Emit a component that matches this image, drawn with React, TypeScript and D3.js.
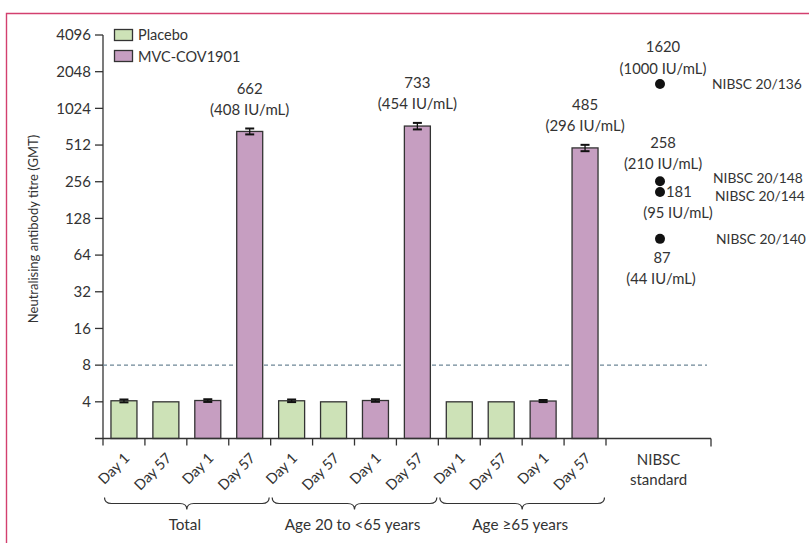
import React from "react";
import * as d3 from "d3";

const categories = ["Day 1", "Day 57", "Day 1", "Day 57", "Day 1", "Day 57", "Day 1", "Day 57", "Day 1", "Day 57", "Day 1", "Day 57"];
const groups = ["Total", "Age 20 to <65 years", "Age \u226565 years"];
const arms = ["Placebo", "Placebo", "MVC-COV1901", "MVC-COV1901", "Placebo", "Placebo", "MVC-COV1901", "MVC-COV1901", "Placebo", "Placebo", "MVC-COV1901", "MVC-COV1901"];
const gmtValues = [4.08, 4.0, 4.1, 662, 4.08, 4.0, 4.1, 733, 4.0, 4.0, 4.06, 485];
const ciLow = [3.96, null, 3.99, 626, 3.98, null, 4.0, 688, null, null, 3.98, 456];
const ciHigh = [4.18, null, 4.2, 700, 4.18, null, 4.2, 778, null, null, 4.14, 514];
const iuLabels = [null, null, null, "(408 IU/mL)", null, null, null, "(454 IU/mL)", null, null, null, "(296 IU/mL)"];
const yTicks = [4, 8, 16, 32, 64, 128, 256, 512, 1024, 2048, 4096];

const nibscNames = ["NIBSC 20/136", "NIBSC 20/148", "NIBSC 20/144", "NIBSC 20/140"];
const nibscValues = [1620, 258, 181, 87];
const nibscDotAt = [1620, 258, 211, 87];
const nibscIU = ["(1000 IU/mL)", "(210 IU/mL)", "(95 IU/mL)", "(44 IU/mL)"];

const colors: Record<string, string> = { Placebo: "#cde2b7", "MVC-COV1901": "#c69ec1" };
const ink = "#333333";
const font = "Lato, 'Noto Sans', sans-serif";

export default function App() {
  const W = 809, H = 543;
  const y = d3.scaleLog().base(2).domain([2, 4096]).range([438.5, 35]);
  const x = d3.scaleBand<number>().domain(d3.range(categories.length)).range([103, 606]).paddingInner(0.38).paddingOuter(0.19);
  const step = x.step();
  const x0 = 103;
  const xEnd = 711;
  const nibscX = 660;
  const base = y(2);
  const cx = (i: number) => x(i)! + x.bandwidth() / 2;

  const brace = (a: number, b: number) => {
    const m = (a + b) / 2;
    const t = 497.5, f = 503.5, tip = 509.5;
    return `M${a},${t} Q${a},${f} ${a + 7},${f} L${m - 7},${f} Q${m},${f} ${m},${tip} Q${m},${f} ${m + 7},${f} L${b - 7},${f} Q${b},${f} ${b},${t}`;
  };

  return (
    <svg width={W} height={H} style={{ position: "absolute", left: 0, top: 0, fontFamily: font }}>
      <rect width={W} height={H} fill="#fff" />
      <path d={`M6.5,${H} L6.5,13.5 L${W},13.5`} fill="none" stroke="#d3406f" strokeWidth={1.4} />

      {/* y axis */}
      <line x1={x0} x2={x0} y1={y(4096)} y2={base} stroke={ink} strokeWidth={1.3} />
      {yTicks.map((t) => (
        <g key={t}>
          <line x1={x0 - 8} x2={x0} y1={y(t)} y2={y(t)} stroke={ink} strokeWidth={1.3} />
          <text x={x0 - 12} y={y(t)} dy="0.35em" textAnchor="end" fontSize={15} fill={ink}>{t}</text>
        </g>
      ))}
      <text transform={`translate(33,229) rotate(-90)`} textAnchor="middle" dy="0.35em" fontSize={13} fill={ink}>
        Neutralising antibody titre (GMT)
      </text>

      {/* threshold */}
      <line x1={x0} x2={707} y1={y(8)} y2={y(8)} stroke="#6e8797" strokeWidth={1.1} strokeDasharray="4,3" />

      {/* bars */}
      {gmtValues.map((v, i) => (
        <g key={i}>
          <rect x={x(i)} y={y(v)} width={x.bandwidth()} height={base - y(v)} fill={colors[arms[i]]} stroke={ink} strokeWidth={1.3} />
          {ciLow[i] != null && (
            <g stroke="#111" strokeWidth={2}>
              <line x1={cx(i)} x2={cx(i)} y1={y(ciLow[i]!)} y2={y(ciHigh[i]!)} strokeWidth={1.3} />
              <line x1={cx(i) - 4.5} x2={cx(i) + 4.5} y1={y(ciLow[i]!)} y2={y(ciLow[i]!)} />
              <line x1={cx(i) - 4.5} x2={cx(i) + 4.5} y1={y(ciHigh[i]!)} y2={y(ciHigh[i]!)} />
            </g>
          )}
          {iuLabels[i] && (
            <g fontSize={15} fill={ink} textAnchor="middle">
              <text x={cx(i)} y={y(v) - 43} dy="0.35em">{Math.round(v)}</text>
              <text x={cx(i)} y={y(v) - 22} dy="0.35em">{iuLabels[i]}</text>
            </g>
          )}
        </g>
      ))}

      {/* x axis */}
      <line x1={x0 - 8} x2={xEnd} y1={base} y2={base} stroke={ink} strokeWidth={1.3} />
      {d3.range(categories.length + 1).map((k) => (
        <line key={k} x1={x0 + k * step} x2={x0 + k * step} y1={base} y2={base + 7} stroke={ink} strokeWidth={1.3} />
      ))}
      <line x1={xEnd} x2={xEnd} y1={base} y2={base + 8} stroke={ink} strokeWidth={1.3} />
      {categories.map((c, i) => (
        <text key={i} transform={`translate(${cx(i) + 3},${base + 17}) rotate(-45)`} textAnchor="end" dy="0.35em" fontSize={14.5} fill={ink}>
          {c}
        </text>
      ))}
      <text x={(x0 + 12 * step + xEnd) / 2} y={460} dy="0.35em" textAnchor="middle" fontSize={15} fill={ink}>NIBSC</text>
      <text x={(x0 + 12 * step + xEnd) / 2} y={480} dy="0.35em" textAnchor="middle" fontSize={15} fill={ink}>standard</text>

      {/* braces */}
      {groups.map((g, gi) => {
        const a = x0 + gi * 4 * step + 1.5;
        const b = x0 + (gi + 1) * 4 * step - 1.5;
        return (
          <g key={g}>
            <path d={brace(a, b)} fill="none" stroke={ink} strokeWidth={1.2} />
            <text x={(a + b) / 2 - 2} y={525} dy="0.35em" textAnchor="middle" fontSize={15.3} fill={ink}>{g}</text>
          </g>
        );
      })}

      {/* NIBSC standards */}
      {nibscValues.map((v, i) => (
        <circle key={i} cx={nibscX} cy={y(nibscDotAt[i])} r={5} fill="#111" />
      ))}
      <g fontSize={14.8} fill={ink}>
        <text x={663} y={y(nibscValues[0]) - 37} dy="0.35em" textAnchor="middle">{nibscValues[0]}</text>
        <text x={663} y={y(nibscValues[0]) - 15} dy="0.35em" textAnchor="middle">{nibscIU[0]}</text>
        <text x={663} y={y(nibscValues[1]) - 38} dy="0.35em" textAnchor="middle">{nibscIU[1] && nibscValues[1]}</text>
        <text x={663} y={y(nibscValues[1]) - 17} dy="0.35em" textAnchor="middle">{nibscIU[1]}</text>
        <text x={666} y={y(nibscDotAt[2])} dy="0.35em" textAnchor="start">{nibscValues[2]}</text>
        <text x={678} y={y(nibscDotAt[2]) + 21} dy="0.35em" textAnchor="middle">{nibscIU[2]}</text>
        <text x={662} y={y(nibscValues[3]) + 19} dy="0.35em" textAnchor="middle">{nibscValues[3]}</text>
        <text x={661} y={y(nibscValues[3]) + 40} dy="0.35em" textAnchor="middle">{nibscIU[3]}</text>
      </g>
      <g fontSize={13.8} fill={ink}>
        {nibscNames.map((n, i) => (
          <text key={n} x={[712, 713, 715, 716][i]} y={y(nibscDotAt[i]) + [0, -3, 4, 0][i]} dy="0.35em" textAnchor="start">{n}</text>
        ))}
      </g>

      {/* legend */}
      {["Placebo", "MVC-COV1901"].map((k, i) => (
        <g key={k}>
          <rect x={114.5} y={29.5 + i * 21} width={18} height={11} fill={colors[k]} stroke={ink} strokeWidth={1.3} />
          <text x={138} y={35 + i * 21.5} dy="0.35em" fontSize={14.5} fill={ink}>{k}</text>
        </g>
      ))}
    </svg>
  );
}
